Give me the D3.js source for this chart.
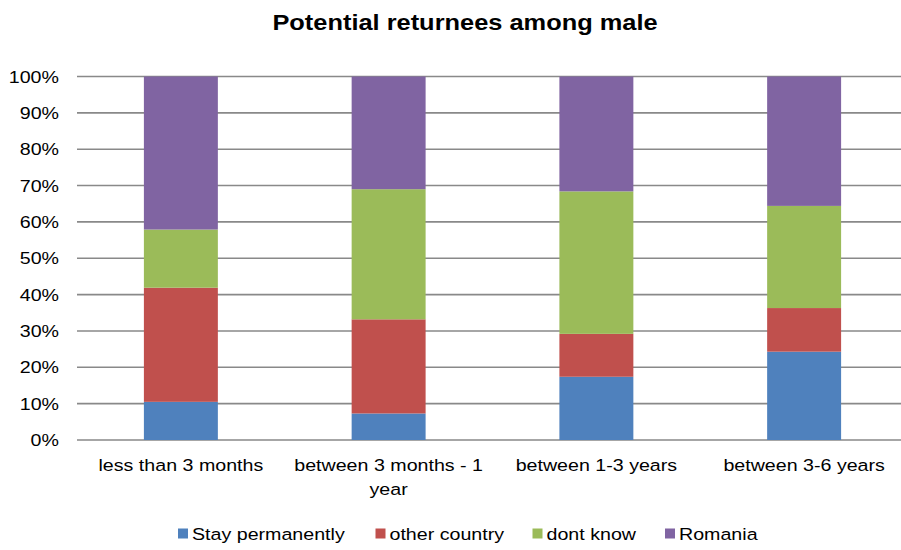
<!DOCTYPE html>
<html>
<head>
<meta charset="utf-8">
<script src="https://cdn.jsdelivr.net/npm/d3@7"></script>
<style>
  html, body { margin: 0; padding: 0; background: #fff; }
  svg { display: block; font-family: "Liberation Sans", Arial, sans-serif; }
</style>
</head>
<body>
<svg id="chart" width="901" height="550"></svg>
<script>
const categories = ["less than 3 months", "between 3 months - 1 year", "between 1-3 years", "between 3-6 years"];
const seriesNames = ["Stay permanently", "other country", "dont know", "Romania"];
const stayPermanently = [10.5, 7.3, 17.4, 24.3];
const otherCountry = [31.4, 25.9, 11.8, 12.0];
const dontKnow = [16.0, 35.8, 39.2, 28.1];
const romania = [42.1, 31.0, 31.6, 35.6];
const colors = ["#4F81BD", "#C0504D", "#9BBB59", "#8064A2"];
const yTicks = [0, 10, 20, 30, 40, 50, 60, 70, 80, 90, 100];
const title = "Potential returnees among male";

const SX = 1.155; // horizontal stretch of the reference text

const rows = categories.map((c, i) => ({
  cat: c,
  "Stay permanently": stayPermanently[i],
  "other country": otherCountry[i],
  "dont know": dontKnow[i],
  "Romania": romania[i]
}));

const svg = d3.select("#chart");
const plotLeft = 77, plotRight = 908, plotTop = 76.5, plotBottom = 440;

const x = d3.scaleBand().domain(categories).range([plotLeft, plotRight]).paddingInner(0.644).paddingOuter(0.322);
const y = d3.scaleLinear().domain([0, 100]).range([plotBottom, plotTop]);
const color = d3.scaleOrdinal().domain(seriesNames).range(colors);

function stretchedText(g, tx, ty, str, anchor, size, weight) {
  return g.append("g")
    .attr("transform", `translate(${tx},${ty}) scale(${SX},1)`)
    .append("text")
    .attr("text-anchor", anchor)
    .attr("font-size", size)
    .attr("font-weight", weight || "normal")
    .attr("fill", "#000")
    .text(str);
}

// gridlines
const grid = svg.append("g");
grid.selectAll("line").data(yTicks).join("line")
  .attr("x1", plotLeft).attr("x2", 901)
  .attr("y1", d => y(d)).attr("y2", d => y(d))
  .attr("stroke", "#898989").attr("stroke-width", 1.6);

// y labels
const yl = svg.append("g");
yTicks.forEach(t => stretchedText(yl, 59, y(t) + 6, t + "%", "end", 17));

// stacked bars
const stack = d3.stack().keys(seriesNames);
const layers = stack(rows);
svg.append("g").selectAll("g").data(layers).join("g")
  .attr("fill", d => color(d.key))
  .selectAll("rect").data(d => d).join("rect")
  .attr("x", d => x(d.data.cat))
  .attr("width", x.bandwidth())
  .attr("y", d => y(d[1]))
  .attr("height", d => y(d[0]) - y(d[1]));

// category labels with wrapping
const xl = svg.append("g");
const measure = svg.append("text").attr("font-size", 17).attr("visibility", "hidden");
function textWidth(s) { measure.text(s); return measure.node().getComputedTextLength() * SX; }
categories.forEach(c => {
  const words = c.split(" ");
  const lines = [];
  let line = "";
  words.forEach(w => {
    const test = line ? line + " " + w : w;
    if (textWidth(test) > x.step() - 4 && line) { lines.push(line); line = w; }
    else line = test;
  });
  lines.push(line);
  const cx = x(c) + x.bandwidth() / 2;
  lines.forEach((l, i) => stretchedText(xl, cx, 471 + i * 23.5, l, "middle", 17));
});
measure.remove();

// title
stretchedText(svg, 465, 29.5, title, "middle", 22, "bold");

// legend
const legendX = [178, 375.5, 532.5, 665];
const lg = svg.append("g");
seriesNames.forEach((s, i) => {
  lg.append("rect").attr("x", legendX[i]).attr("y", 528.5).attr("width", 10).attr("height", 10).attr("fill", colors[i]);
  stretchedText(lg, legendX[i] + 14, 540, s, "start", 17);
});
</script>
</body>
</html>
